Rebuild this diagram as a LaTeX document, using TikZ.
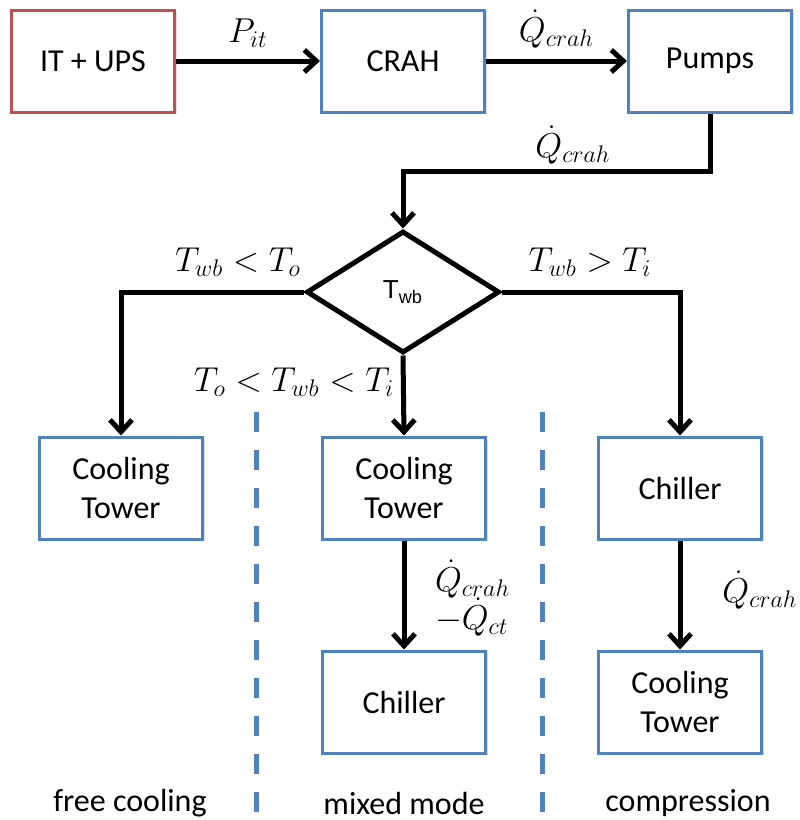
\documentclass[tikz,border=0pt]{standalone}
\usepackage{fontspec}
\setmainfont{Carlito}
\newfontfamily\arialfont{Liberation Sans}
\usetikzlibrary{positioning, shapes.geometric, arrows.meta, shadows}

\definecolor{boxblue}{RGB}{79,129,189}
\definecolor{boxred}{RGB}{192,80,77}

\begin{document}
\begin{tikzpicture} [x=0.5pt, y=-0.5pt,
  blk/.style={rectangle, draw=boxblue, line width=1.5pt, fill=white, minimum width=81.5pt, minimum height=51pt,
              align=center, font=\fontsize{16}{19.5}\selectfont, drop shadow={opacity=0.25, shadow xshift=1.2pt, shadow yshift=-1.2pt}},
  dec/.style={diamond, draw=black, line width=2.5pt, fill=white, minimum width=96.5pt, minimum height=61pt, inner sep=0pt,
              font=\arialfont\fontsize{13}{15}\selectfont},
  flow/.style={line width=2.5pt, -{Straight Barb[length=6pt, width=11pt, line width=2.5pt]}},
  lbl/.style={font=\fontsize{16.5}{19}\selectfont},
  sep/.style={draw=boxblue, line width=2.5pt, dash pattern=on 10pt off 9pt},
  mode/.style={font=\fontsize{16}{19}\selectfont}]
  \useasboundingbox (0,0) rectangle (799,820);

  % top row
  \draw (93,61)   node[blk, draw=boxred, minimum height=51pt](itups) {IT + UPS};
  \draw (403,61)  node[blk](crah) {CRAH};
  \draw (710,61)  node[blk](pmp)  {Pumps};

  % decision
  \draw (403,292) node[dec](twb) {T\textsubscript{wb}};

  % second row
  \draw (121,488) node[blk](ctfree) {Cooling\\Tower};
  \draw (404,488) node[blk](ctmix)  {Cooling\\Tower};
  \draw (680,488) node[blk](chcmp)  {Chiller};

  % third row
  \draw (404,702) node[blk](chmix)  {Chiller};
  \draw (680,702) node[blk](ctcmp)  {Cooling\\Tower};

  \path (itups) edge[flow] node[lbl, above=2pt] {$P_{it}$} (crah)
        (crah)  edge[flow] node[lbl, above=2pt] {$\dot{Q}_{crah}$} (pmp)
        (ctmix) edge[flow] (chmix)
        (chcmp) edge[flow] (ctcmp);

  \draw[flow] (pmp.south) -- ++(0,58) -| (twb.north);
  \draw[flow] (twb.west) -| (ctfree.north);
  \draw[flow] (twb.east) -| (chcmp.north);
  \draw[flow] (twb.south) -- (ctmix.north);

  % labels
  \node[lbl] (qpmp) at (573,145) {$\dot{Q}_{crah}$};
  \node[lbl] (cfree) at (238,262) {$T_{wb} < T_{o}$};
  \node[lbl] (ccmp) at (590,262) {$T_{wb} > T_{i}$};
  \node[lbl] (cmix) at (294,382) {$T_{o} < T_{wb} < T_{i}$};
  \node[lbl, anchor=west, align=left] (qmix) at (428,598) {$\dot{Q}_{crah}$\\[-1pt]$-\dot{Q}_{ct}$};
  \node[lbl] (qcmp) at (760,590) {$\dot{Q}_{crah}$};

  % separators
  \coordinate (sa1) at (256,412); \coordinate (sa2) at (256,820);
  \coordinate (sb1) at (542,412); \coordinate (sb2) at (542,820);
  \draw[sep] (sa1) -- (sa2);
  \draw[sep] (sb1) -- (sb2);

  \node[mode] (mfree) at (130,803) {free cooling};
  \node[mode] (mmix)  at (404,803) {mixed mode};
  \node[mode] (mcmp)  at (688,803) {compression};
\end{tikzpicture}
\end{document}
